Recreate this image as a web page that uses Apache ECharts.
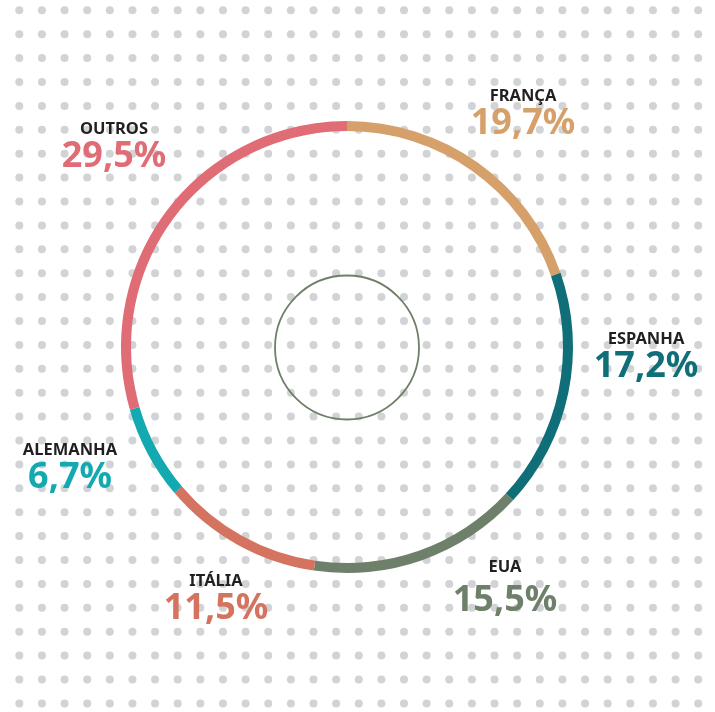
<!DOCTYPE html>
<html>
<head>
<meta charset="utf-8">
<script src="https://cdn.jsdelivr.net/npm/echarts@6/dist/echarts.min.js"></script>
<style>
  html, body { margin: 0; padding: 0; background: #fff; }
  #main { width: 715px; height: 712px; }
</style>
</head>
<body>
<div id="main"></div>
<script>
// dados: países e participação (%)
var paises = ['FRANÇA', 'ESPANHA', 'EUA', 'ITÁLIA', 'ALEMANHA', 'OUTROS'];
var valores = [19.7, 17.2, 15.5, 11.5, 6.7, 29.5];
var cores = ['#d6a06a', '#0f6e78', '#6f806a', '#d4735f', '#12a9b1', '#e06c75'];

// centro dos rótulos (layout)
var posRotulos = [[523, 114], [646, 357], [505, 591], [216, 599], [70, 468], [114, 147]];

var myChart = echarts.init(document.getElementById('main'));

// fundo pontilhado
var pontos = [];
for (var i = 0; i < 33; i++) {
    for (var j = 0; j < 31; j++) {
        pontos.push({
            type: 'circle',
            silent: true,
            z: -10,
            shape: { cx: 19.3 + i * 22.63, cy: 10.3 + j * 23.9, r: 4 },
            style: { fill: '#d1d3d4' }
        });
    }
}
// círculo central
pontos.push({
    type: 'circle',
    silent: true,
    z: 10,
    shape: { cx: 347, cy: 347.5, r: 72 },
    style: { fill: 'none', stroke: '#6e8068', lineWidth: 1.8 }
});

var data = [];
for (var k = 0; k < paises.length; k++) {
    data.push({
        name: paises[k],
        value: valores[k],
        itemStyle: { color: cores[k] },
        label: { rich: { v: { color: cores[k] }, w: { color: cores[k] } } }
    });
}

var option = {
    backgroundColor: '#fff',
    animation: false,
    graphic: pontos,
    series: [
        {
            type: 'pie',
            center: [347, 347],
            radius: [216, 226],
            startAngle: 90,
            clockwise: true,
            silent: true,
            emphasis: { disabled: true },
            labelLine: { show: false },
            label: {
                show: true,
                position: 'outside',
                overflow: 'none',
                width: 200,
                fontFamily: 'Noto Sans',
                formatter: function (p) {
                    var txt = p.value.toFixed(1).replace('.', ',') + '%';
                    // EUA tem um espaço maior entre nome e valor
                    return '{n|' + p.name + '}\n' + (p.name === 'EUA' ? '{w|' : '{v|') + txt + '}';
                },
                rich: {
                    n: { fontFamily: 'Noto Sans', fontSize: 16.5, fontWeight: 'bold', color: '#231f20', lineHeight: 20, align: 'center' },
                    v: { fontFamily: 'Noto Sans', fontSize: 36, fontWeight: 'bold', lineHeight: 36, align: 'center' },
                    w: { fontFamily: 'Noto Sans', fontSize: 36, fontWeight: 'bold', lineHeight: 48, align: 'center' }
                }
            },
            labelLayout: function (params) {
                var p = posRotulos[params.dataIndex];
                return { x: p[0], y: p[1], align: 'center', verticalAlign: 'middle' };
            },
            data: data
        }
    ]
};

myChart.setOption(option);
</script>
</body>
</html>
